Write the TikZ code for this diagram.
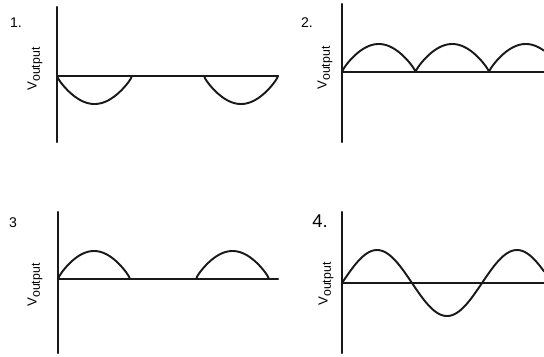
\documentclass[tikz,border=0pt]{standalone}
\usepackage{fontspec}
\setmainfont{Liberation Sans}
\newcommand{\vout}{{\fontsize{7.5}{8}\selectfont V}\raisebox{-1.8pt}{\fontsize{7}{8}\selectfont output}}
\tikzset{
	axis/.style={line width=1.2pt, black!90},
	wave/.style={line width=1.1pt, black!90},
	vlabel/.style={rotate=90, inner sep=0pt},
	numlabel/.style={font=\fontsize{8}{9}\selectfont, inner sep=0pt}
}
\begin{document}
\begin{tikzpicture}[x=0.02cm, y=-0.02cm, line join=round, line cap=round]
	\useasboundingbox (0,0) rectangle (544,356);
	% panel 1
	\coordinate (O1) at (57,76);
	\coordinate (T1) at (57,7);
	\coordinate (B1) at (57,142);
	\coordinate (E1) at (278,76);
	\draw[axis] (T1) -- (B1);
	\draw[axis] (O1) -- (E1);
	\draw[wave, shift={(O1)}] plot[domain=0:75, samples=60] (\x,{28*abs(sin(\x/75*180))^0.8});
	\draw[wave, shift={(O1)}] plot[domain=147:221, samples=60] (\x,{28*abs(sin((\x-147)/74*180))^0.8});
	\node[numlabel] (N1) at (16,23) {1.};
	\node[vlabel] (V1) at (35,69) {\vout};
	% panel 2
	\coordinate (O2) at (342,72);
	\coordinate (T2) at (342,4);
	\coordinate (B2) at (342,142);
	\coordinate (E2) at (544,72);
	\draw[axis] (T2) -- (B2);
	\draw[axis] (O2) -- (E2);
	\draw[wave, shift={(O2)}] plot[domain=0:202, samples=160] (\x,{-28*abs(sin(\x/73.5*180))^0.8});
	\node[numlabel] (N2) at (307,23) {2.};
	\node[vlabel] (V2) at (325,68) {\vout};
	% panel 3
	\coordinate (O3) at (58,279);
	\coordinate (T3) at (58,212);
	\coordinate (B3) at (58,353);
	\coordinate (E3) at (278,279);
	\draw[axis] (T3) -- (B3);
	\draw[axis] (O3) -- (E3);
	\draw[wave, shift={(O3)}] plot[domain=0:72, samples=60] (\x,{-28*abs(sin(\x/72*180))^0.8});
	\draw[wave, shift={(O3)}] plot[domain=138:211, samples=60] (\x,{-28*abs(sin((\x-138)/73*180))^0.8});
	\node[numlabel] (N3) at (13,223) {3};
	\node[vlabel] (V3) at (35,285) {\vout};
	% panel 4
	\coordinate (O4) at (342,283);
	\coordinate (T4) at (342,212);
	\coordinate (B4) at (342,353);
	\coordinate (E4) at (544,283);
	\draw[axis] (T4) -- (B4);
	\draw[axis] (O4) -- (E4);
	\draw[wave, shift={(O4)}] plot[domain=0:202, samples=120] (\x,{-33*sin(\x/70*180)});
	\node[numlabel, font=\fontsize{10.5}{11}\selectfont] (N4) at (320,221) {4.};
	\node[vlabel] (V4) at (326,284) {\vout};
\end{tikzpicture}
\end{document}
